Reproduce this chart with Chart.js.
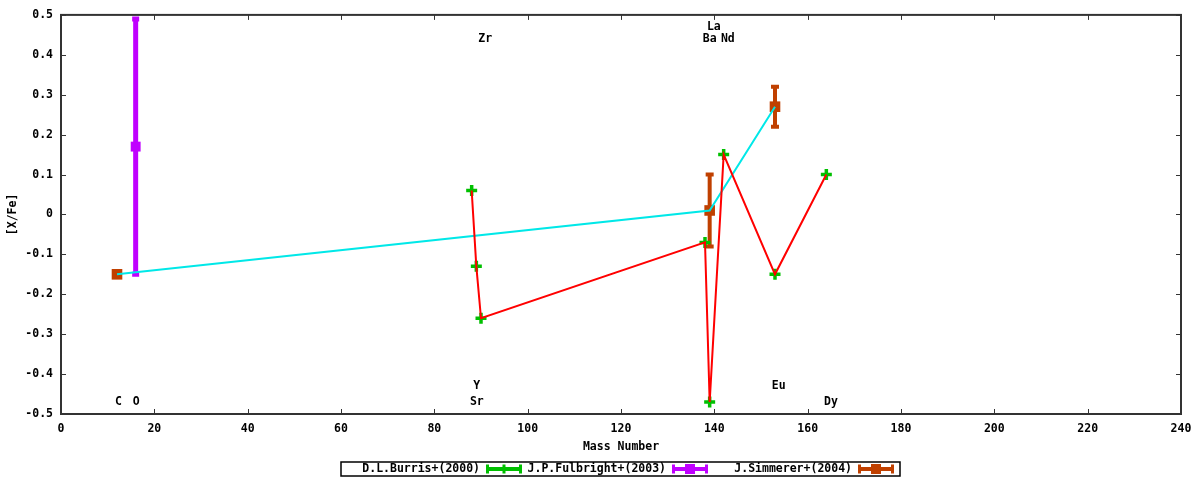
<!DOCTYPE html>
<html>
<head>
<meta charset="utf-8">
<script src="https://cdn.jsdelivr.net/npm/chart.js@4.4.0/dist/chart.umd.min.js"></script>
<style>
  body { margin: 0; background: #fff; }
  canvas { display: block; }
</style>
</head>
<body>
<canvas id="abundChart" width="1200" height="480"></canvas>
<script>
// D.L.Burris+(2000) - mass number / [X/Fe]
const burrisX = [88, 89, 90, 138, 139, 142, 153, 164];
const burrisY = [0.06, -0.13, -0.26, -0.07, -0.47, 0.15, -0.15, 0.10];

// J.P.Fulbright+(2003)
const fulbrightX = [16];
const fulbrightY = [0.17];
const fulbrightErr = [0.32];

// J.Simmerer+(2004)
const simmererX = [12, 139, 153];
const simmererY = [-0.15, 0.01, 0.27];
const simmererErr = [0, 0.09, 0.05];

// element labels
const elemNames = ["C", "O", "Sr", "Y", "Zr", "Ba", "La", "Nd", "Eu", "Dy"];
const elemX = [12.3, 16.1, 89.1, 89.1, 90.9, 139, 139.9, 142.9, 153.8, 165];
const elemY = [-0.47, -0.47, -0.47, -0.43, 0.44, 0.44, 0.47, 0.44, -0.43, -0.47];

const xTicks = [0, 20, 40, 60, 80, 100, 120, 140, 160, 180, 200, 220, 240];
const yTicks = [-0.5, -0.4, -0.3, -0.2, -0.1, 0, 0.1, 0.2, 0.3, 0.4, 0.5];

const legendNames = ["D.L.Burris+(2000)", "J.P.Fulbright+(2003)", "J.Simmerer+(2004)"];

const GREEN = "#00c000", PURPLE = "#c000ff", ORANGE = "#c04000";
const FONT = "bold 11.5px 'DejaVu Sans Mono'";

function pts(xs, ys) {
  return xs.map((x, i) => ({ x: x, y: ys[i] }));
}

function drawErrorBars(chart, xs, ys, errs, color, width, cap) {
  const ctx = chart.ctx, sx = chart.scales.x, sy = chart.scales.y;
  ctx.save();
  ctx.strokeStyle = color;
  ctx.lineWidth = width;
  xs.forEach((x, i) => {
    if (!errs[i]) return;
    const px = sx.getPixelForValue(x);
    const top = sy.getPixelForValue(ys[i] + errs[i]);
    const bot = sy.getPixelForValue(ys[i] - errs[i]);
    ctx.beginPath();
    ctx.moveTo(px, top); ctx.lineTo(px, bot);
    ctx.moveTo(px - cap, top); ctx.lineTo(px + cap, top);
    ctx.moveTo(px - cap, bot); ctx.lineTo(px + cap, bot);
    ctx.stroke();
  });
  ctx.restore();
}

const framePlugin = {
  id: "frame",
  beforeDatasetsDraw(chart) {
    const ctx = chart.ctx, a = chart.chartArea;
    const sx = chart.scales.x, sy = chart.scales.y;
    ctx.save();
    ctx.strokeStyle = "#333";
    ctx.lineWidth = 1;
    ctx.beginPath();
    xTicks.forEach(v => { //inner ticks top and bottom
      const px = Math.round(sx.getPixelForValue(v)) + 0.5;
      ctx.moveTo(px, a.bottom); ctx.lineTo(px, a.bottom - 5);
      ctx.moveTo(px, a.top); ctx.lineTo(px, a.top + 5);
    });
    yTicks.forEach(v => {
      const py = Math.round(sy.getPixelForValue(v)) + 0.5;
      ctx.moveTo(a.left, py); ctx.lineTo(a.left + 5, py);
      ctx.moveTo(a.right, py); ctx.lineTo(a.right - 5, py);
    });
    ctx.stroke();
    ctx.lineWidth = 2;
    ctx.strokeRect(a.left, a.top, a.right - a.left, a.bottom - a.top);

    // element names
    ctx.fillStyle = "#000";
    ctx.font = FONT;
    ctx.textAlign = "center";
    ctx.textBaseline = "middle";
    elemNames.forEach((n, i) => {
      ctx.fillText(n, sx.getPixelForValue(elemX[i]), sy.getPixelForValue(elemY[i]));
    });

    // axis titles
    ctx.fillText("Mass Number", (a.left + a.right) / 2, 447);
    ctx.translate(13, (a.top + a.bottom) / 2);
    ctx.rotate(-Math.PI / 2);
    ctx.fillText("[X/Fe]", 0, 0);
    ctx.restore();
  },
  beforeDatasetDraw(chart, args) {
    if (args.index === 3) drawErrorBars(chart, fulbrightX, fulbrightY, fulbrightErr, PURPLE, 5, 3.5);
    if (args.index === 4) drawErrorBars(chart, simmererX, simmererY, simmererErr, ORANGE, 4, 4);
  },
  afterDraw(chart) {
    const ctx = chart.ctx;
    ctx.save();
    ctx.strokeStyle = "#000";
    ctx.lineWidth = 1.5;
    ctx.strokeRect(341, 462, 559, 14);
    ctx.font = FONT;
    ctx.fillStyle = "#000";
    ctx.textAlign = "right";
    ctx.textBaseline = "middle";
    const colors = [GREEN, PURPLE, ORANGE];
    const yMid = 469;
    legendNames.forEach((name, i) => {
      const textRight = 480 + i * 186;
      ctx.fillText(name, textRight, yMid);
      const x0 = textRight + 6, x1 = x0 + 36, xc = (x0 + x1) / 2;
      ctx.strokeStyle = colors[i];
      ctx.fillStyle = colors[i];
      ctx.lineWidth = 4;
      ctx.beginPath();
      ctx.moveTo(x0, yMid); ctx.lineTo(x1, yMid);
      ctx.stroke();
      ctx.lineWidth = 3;
      ctx.beginPath();
      ctx.moveTo(x0 + 1.5, yMid - 4.5); ctx.lineTo(x0 + 1.5, yMid + 4.5);
      ctx.moveTo(x1 - 1.5, yMid - 4.5); ctx.lineTo(x1 - 1.5, yMid + 4.5);
      if (i === 0) {
        ctx.moveTo(xc, yMid - 4.5); ctx.lineTo(xc, yMid + 4.5);
      }
      ctx.stroke();
      if (i > 0) ctx.fillRect(xc - 5, yMid - 5, 10, 10);
      ctx.fillStyle = "#000";
    });
    ctx.restore();
  }
};

new Chart(document.getElementById("abundChart"), {
  type: "scatter",
  data: {
    datasets: [
      { //red line through Burris points
        data: pts(burrisX, burrisY),
        showLine: true, borderColor: "#ff0000", borderWidth: 2,
        pointRadius: 0, tension: 0
      },
      { //cyan line through Simmerer points
        data: pts(simmererX, simmererY),
        showLine: true, borderColor: "#00e8e8", borderWidth: 2,
        pointRadius: 0, tension: 0
      },
      {
        label: legendNames[0],
        data: pts(burrisX, burrisY),
        pointStyle: "cross", pointRadius: 5.5,
        borderColor: GREEN, backgroundColor: GREEN, borderWidth: 3.5
      },
      {
        label: legendNames[1],
        data: pts(fulbrightX, fulbrightY),
        pointStyle: "rect", pointRadius: 7,
        backgroundColor: PURPLE, borderColor: PURPLE, borderWidth: 0
      },
      {
        label: legendNames[2],
        data: pts(simmererX, simmererY),
        pointStyle: "rect", pointRadius: 7.5,
        backgroundColor: ORANGE, borderColor: ORANGE, borderWidth: 0
      }
    ]
  },
  options: {
    responsive: false,
    animation: false,
    layout: { padding: { top: 13, right: 19, left: 0, bottom: 0 } },
    plugins: {
      legend: { display: false },
      tooltip: { enabled: false }
    },
    scales: {
      x: {
        type: "linear", min: 0, max: 240,
        afterBuildTicks: s => { s.ticks = xTicks.map(v => ({ value: v })); },
        afterFit: s => { s.height = 66; },
        grid: { display: false, drawTicks: false },
        border: { display: false },
        ticks: {
          color: "#000", padding: 8, maxRotation: 0,
          font: { family: "DejaVu Sans Mono", size: 11.5, weight: "bold" }
        }
      },
      y: {
        type: "linear", min: -0.5, max: 0.5,
        afterBuildTicks: s => { s.ticks = yTicks.map(v => ({ value: v })); },
        afterFit: s => { s.width = 61; },
        grid: { display: false, drawTicks: false },
        border: { display: false },
        ticks: {
          color: "#000", padding: 8,
          font: { family: "DejaVu Sans Mono", size: 11.5, weight: "bold" },
          callback: v => Math.abs(v) < 1e-9 ? "0" : v.toFixed(1)
        }
      }
    }
  },
  plugins: [framePlugin]
});
</script>
</body>
</html>
